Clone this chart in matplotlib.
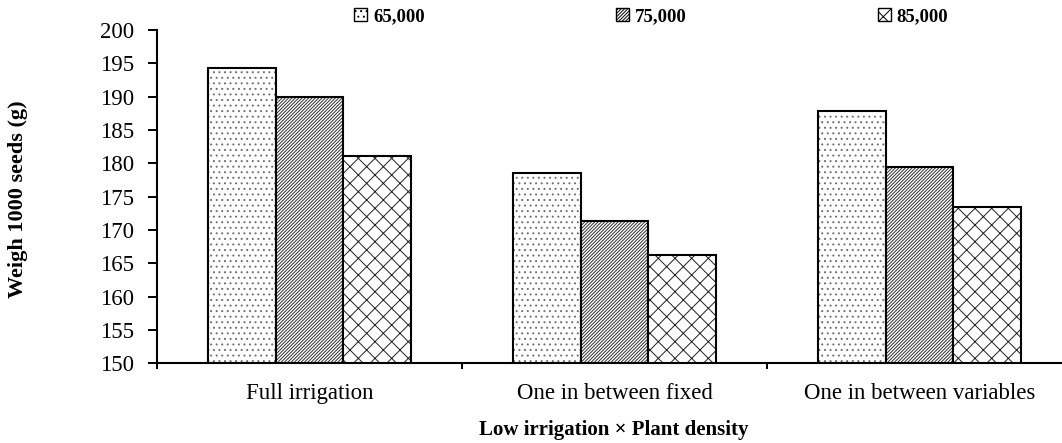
import matplotlib.pyplot as plt
from matplotlib.patches import Patch
import numpy as np

# data
categories = ["Full irrigation", "One in between fixed", "One in between variables"]
densities = ["65,000", "75,000", "85,000"]
d65 = [194.3, 178.6, 187.9]
d75 = [189.9, 171.3, 179.5]
d85 = [181.1, 166.2, 173.5]

plt.rcParams['font.family'] = ['Liberation Serif', 'DejaVu Serif']
plt.rcParams['hatch.linewidth'] = 0.7

fig = plt.figure(figsize=(10.62, 4.43), dpi=100)
ax = fig.add_axes([0.1478, 0.18, 0.8522, 0.7523])

x = np.arange(len(categories))
w = 0.221
series = [d65, d75, d85]
hatches = ['...', '//////////', 'xx']
hatch_cols = ['#707070', '#303030', '#202020']
for i, (vals, h, hc) in enumerate(zip(series, hatches, hatch_cols)):
    pos = x + (i - 1) * w
    # hatch layer in its own colour, then a black outline on top
    ax.bar(pos, vals, w, color='white', edgecolor=hc, linewidth=0, hatch=h)
    ax.bar(pos, vals, w, fill=False, edgecolor='black', linewidth=1.5)

ax.set_ylim(150, 200)
ax.set_yticks(np.arange(150, 201, 5))
ax.set_xlim(-0.5, 2.5 - 10 / 305)

# boundary ticks, labels at centres
ax.set_xticks([-0.5, 0.5, 1.5])
ax.set_xticklabels([])
ax.set_xticks(x, minor=True)
ax.set_xticklabels(categories, minor=True)
ax.tick_params(axis='x', which='major', direction='out', length=4, width=1.4)
ax.tick_params(axis='x', which='minor', length=0, pad=14, labelsize=16.5)
ax.tick_params(axis='y', direction='out', length=6.5, width=1.4, labelsize=16.5, pad=10)

for s in ['top', 'right']:
    ax.spines[s].set_visible(False)
for s in ['left', 'bottom']:
    ax.spines[s].set_linewidth(1.5)

fig.text(0.578, 0.03, "Low irrigation \u00d7 Plant density", fontsize=15,
         fontweight='bold', ha='center', va='center')
fig.text(0.017, 0.55, "Weigh 1000 seeds (g)", rotation=90, fontsize=16,
         fontweight='bold', ha='center', va='center')

handles = [Patch(facecolor='white', edgecolor='black', hatch=h, linewidth=1.0)
           for h in hatches]
leg = fig.legend(handles, densities, loc='center', bbox_to_anchor=(0.613, 0.962), ncol=3,
                 frameon=False, prop={'weight': 'bold', 'size': 13.5}, handlelength=0.7,
                 handleheight=0.7, handletextpad=0.3, columnspacing=10.2)

fig.savefig("out.png", dpi=100)
